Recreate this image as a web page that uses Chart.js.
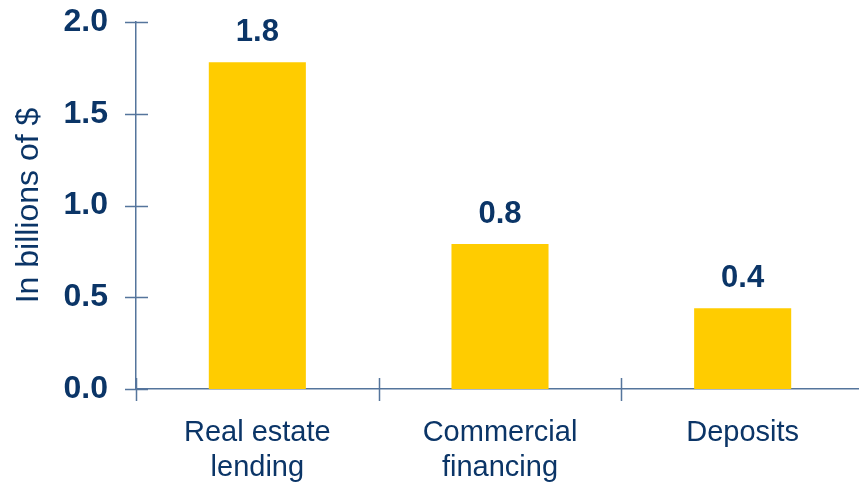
<!DOCTYPE html>
<html lang="en">
<head>
    <meta charset="UTF-8">
    <title>In billions of $</title>
    <style>
        html, body { margin: 0; padding: 0; background: #fff; overflow: hidden; }
        #wrap { width: 872px; height: 492px; }
    </style>
</head>
<body>
    <div id="wrap"><canvas id="barChart"></canvas></div>
    <script src="https://cdn.jsdelivr.net/npm/chart.js"></script>
    <script>
        const categories = [['Real estate', 'lending'], ['Commercial', 'financing'], 'Deposits'];
        const amounts = [1.78, 0.79, 0.44];
        const yTicks = [0, 0.5, 1.0, 1.5, 2.0];

        const navy = '#0b3567';
        const axisBlue = '#55759c';

        // ticks that cross the axis line, like the original
        const crossTicks = {
            id: 'crossTicks',
            afterDraw(chart) {
                const ctx = chart.ctx;
                const x = chart.scales.x;
                const y = chart.scales.y;
                ctx.save();
                ctx.strokeStyle = axisBlue;
                ctx.lineWidth = 1.5;
                ctx.beginPath();
                yTicks.forEach(v => {
                    const py = Math.round(y.getPixelForValue(v)) + 0.5;
                    ctx.moveTo(x.left - 11, py);
                    ctx.lineTo(x.left + 12, py);
                });
                const half = (x.getPixelForValue(1) - x.getPixelForValue(0)) / 2;
                for (let i = 0; i < categories.length; i++) {
                    const px = Math.round(x.getPixelForValue(i) - half) + 0.5;
                    ctx.moveTo(px, y.bottom - 11);
                    ctx.lineTo(px, y.bottom + 12);
                }
                ctx.stroke();
                ctx.restore();
            }
        };

        const valueLabels = {
            id: 'valueLabels',
            afterDatasetsDraw(chart) {
                const ctx = chart.ctx;
                const meta = chart.getDatasetMeta(0);
                ctx.save();
                ctx.fillStyle = navy;
                ctx.font = 'bold 31px "Liberation Sans", Arial, sans-serif';
                ctx.textAlign = 'center';
                ctx.textBaseline = 'alphabetic';
                meta.data.forEach((bar, i) => {
                    ctx.fillText(amounts[i].toFixed(1), bar.x, bar.y - 21);
                });
                ctx.restore();
            }
        };

        new Chart(document.getElementById('barChart'), {
            type: 'bar',
            data: {
                labels: categories,
                datasets: [{
                    data: amounts,
                    backgroundColor: '#ffcc00',
                    borderWidth: 0,
                    barPercentage: 0.4,
                    categoryPercentage: 1.0
                }]
            },
            options: {
                responsive: true,
                maintainAspectRatio: false,
                animation: false,
                layout: { padding: { top: 22, right: 8, left: 0, bottom: 0 } },
                plugins: {
                    legend: { display: false },
                    tooltip: { enabled: false }
                },
                scales: {
                    x: {
                        afterFit(scale) {
                            scale.height = 103;
                            scale.paddingLeft = 0;
                            scale.paddingRight = 0;
                        },
                        grid: { display: false, drawTicks: false },
                        border: { display: true, color: axisBlue, width: 1.5 },
                        ticks: {
                            color: navy,
                            padding: 26,
                            font: { family: '"Liberation Sans", Arial, sans-serif', size: 29, lineHeight: 1.22 }
                        }
                    },
                    y: {
                        min: 0,
                        max: 2.0,
                        afterFit(scale) {
                            scale.width = 136;
                            scale.paddingTop = 0;
                            scale.paddingBottom = 0;
                        },
                        afterBuildTicks(scale) { scale.ticks = yTicks.map(v => ({ value: v })); },
                        grid: { display: false, drawTicks: false },
                        border: { display: true, color: axisBlue, width: 1.5 },
                        ticks: {
                            color: navy,
                            padding: 28,
                            font: { family: '"Liberation Sans", Arial, sans-serif', size: 32, weight: 'bold' },
                            callback: v => v.toFixed(1)
                        },
                        title: {
                            display: true,
                            text: 'In billions of $',
                            color: navy,
                            padding: { top: 10, bottom: 0 },
                            font: { family: '"Liberation Sans", Arial, sans-serif', size: 32 }
                        }
                    }
                }
            },
            plugins: [crossTicks, valueLabels]
        });
    </script>
</body>
</html>
